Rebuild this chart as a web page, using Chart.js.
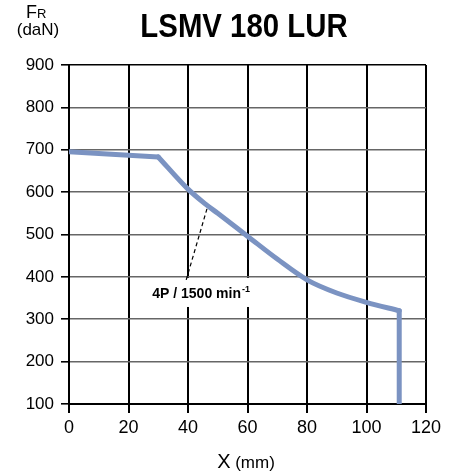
<!DOCTYPE html>
<html>
<head>
<meta charset="utf-8">
<script src="https://cdn.jsdelivr.net/npm/chart.js@4"></script>
<style>
  html, body { margin: 0; padding: 0; background: #fff; }
  #wrap { width: 450px; height: 475px; }
</style>
</head>
<body>
<div id="wrap"><canvas id="myChart" width="450" height="475"></canvas></div>
<script>
// curve
var xPositions = [0, 30, 40, 46, 50, 60, 70, 80, 90, 100, 111, 111];
var radialLoad = [695, 683, 607, 571, 550, 496, 442, 393, 362, 340, 320, 100];

// dashed leader for the label
var leaderX = [39.4, 46.6];
var leaderY = [393, 566];

var xTicks = [0, 20, 40, 60, 80, 100, 120];
var yTicks = [100, 200, 300, 400, 500, 600, 700, 800, 900];

var chartTitle = 'LSMV 180 LUR';
var curveLabel = '4P / 1500 min';
var labelPos = { x: 44.4, y: 362 };

var FONT = '"Liberation Sans", Arial, sans-serif';
var CURVE_COLOR = '#7b93c2';

function toPoints(xs, ys, from, to) {
    var pts = [];
    for (var i = from; i <= to; i++) pts.push({ x: xs[i], y: ys[i] });
    return pts;
}

function curvePart(from, to, mode) {
    return {
        data: toPoints(xPositions, radialLoad, from, to),
        borderColor: CURVE_COLOR,
        borderWidth: 5,
        borderCapStyle: 'round',
        borderJoinStyle: 'miter',
        pointRadius: 0,
        cubicInterpolationMode: mode,
        tension: 0,
        fill: false
    };
}

var textPlugin = {
    id: 'texts',
    beforeDatasetsDraw: function(chart) {
        var ctx = chart.ctx;
        var xs = chart.scales.x, ys = chart.scales.y;
        var cx = xs.getPixelForValue(labelPos.x);
        var cy = ys.getPixelForValue(labelPos.y);
        ctx.save();
        ctx.font = 'bold 14px ' + FONT;
        var w1 = ctx.measureText(curveLabel).width;
        ctx.font = 'bold 9px ' + FONT;
        var w2 = ctx.measureText('-1').width;
        var total = w1 + w2 + 1;
        ctx.fillStyle = '#fff';
        ctx.fillRect(cx - total / 2 - 6, cy - 15, total + 12, 29);
        ctx.fillStyle = '#000';
        ctx.textBaseline = 'alphabetic';
        ctx.textAlign = 'left';
        ctx.font = 'bold 14px ' + FONT;
        ctx.fillText(curveLabel, cx - total / 2, cy + 5);
        ctx.font = 'bold 9px ' + FONT;
        ctx.fillText('-1', cx - total / 2 + w1 + 1, cy - 1);
        ctx.restore();
    },
    afterDraw: function(chart) {
        var ctx = chart.ctx;
        ctx.save();
        ctx.fillStyle = '#000';
        ctx.textBaseline = 'alphabetic';

        // main title, narrow bold
        ctx.save();
        ctx.translate(244, 37);
        ctx.scale(0.89, 1);
        ctx.font = 'bold 33px ' + FONT;
        ctx.textAlign = 'center';
        ctx.fillText(chartTitle, 0, 0);
        ctx.restore();

        // y axis title  F_R (daN)
        ctx.textAlign = 'left';
        ctx.font = '18px ' + FONT;
        ctx.fillText('F', 26, 18);
        var fw = ctx.measureText('F').width;
        ctx.font = '13px ' + FONT;
        ctx.fillText('R', 26 + fw, 18);
        ctx.font = '17px ' + FONT;
        ctx.textAlign = 'center';
        ctx.fillText('(daN)', 38, 35);

        // x axis title
        ctx.textAlign = 'left';
        ctx.font = '20px ' + FONT;
        var xw = ctx.measureText('X').width;
        ctx.font = '17px ' + FONT;
        var mw = ctx.measureText(' (mm)').width;
        var start = 246 - (xw + mw) / 2;
        ctx.font = '20px ' + FONT;
        ctx.fillText('X', start, 468);
        ctx.font = '17px ' + FONT;
        ctx.fillText(' (mm)', start + xw, 468);
        ctx.restore();
    }
};

window.onload = function() {
    var ctx = document.getElementById('myChart').getContext('2d');
    var last = xPositions.length - 1;
    var myChart = new Chart(ctx, {
        type: 'line',
        data: {
            datasets: [
                curvePart(0, 1, 'default'),
                curvePart(1, last - 1, 'monotone'),
                curvePart(last - 1, last, 'default'),
                {
                    label: 'leader',
                    data: toPoints(leaderX, leaderY, 0, leaderX.length - 1),
                    borderColor: '#000',
                    borderWidth: 1.2,
                    borderDash: [4, 3],
                    pointRadius: 0,
                    fill: false
                }
            ]
        },
        options: {
            responsive: false,
            animation: false,
            layout: { padding: { top: 65, right: 24, left: 0, bottom: 0 } },
            plugins: {
                legend: { display: false },
                title: { display: false },
                tooltip: { enabled: false }
            },
            scales: {
                x: {
                    type: 'linear',
                    min: 0,
                    max: 120,
                    afterBuildTicks: function(scale) {
                        scale.ticks = xTicks.map(function(v) { return { value: v }; });
                    },
                    afterFit: function(scale) { scale.height = 71; },
                    grid: {
                        color: '#000',
                        lineWidth: 2,
                        drawTicks: true,
                        tickLength: 9,
                        tickColor: '#000'
                    },
                    border: { display: true, color: '#000', width: 2 },
                    ticks: {
                        color: '#000',
                        padding: 4,
                        maxRotation: 0,
                        font: { family: FONT, size: 18 }
                    }
                },
                y: {
                    type: 'linear',
                    min: 100,
                    max: 900,
                    afterBuildTicks: function(scale) {
                        scale.ticks = yTicks.map(function(v) { return { value: v }; });
                    },
                    afterFit: function(scale) { scale.width = 69; },
                    grid: {
                        color: function(c) {
                            var v = c.tick ? c.tick.value : 0;
                            return (v === 100 || v === 900) ? '#000' : '#666';
                        },
                        lineWidth: 1.6,
                        drawTicks: true,
                        tickLength: 8,
                        tickColor: '#000'
                    },
                    border: { display: true, color: '#000', width: 2 },
                    ticks: {
                        color: '#000',
                        padding: 7,
                        font: { family: FONT, size: 17 }
                    }
                }
            }
        },
        plugins: [textPlugin]
    });
};
</script>
</body>
</html>
